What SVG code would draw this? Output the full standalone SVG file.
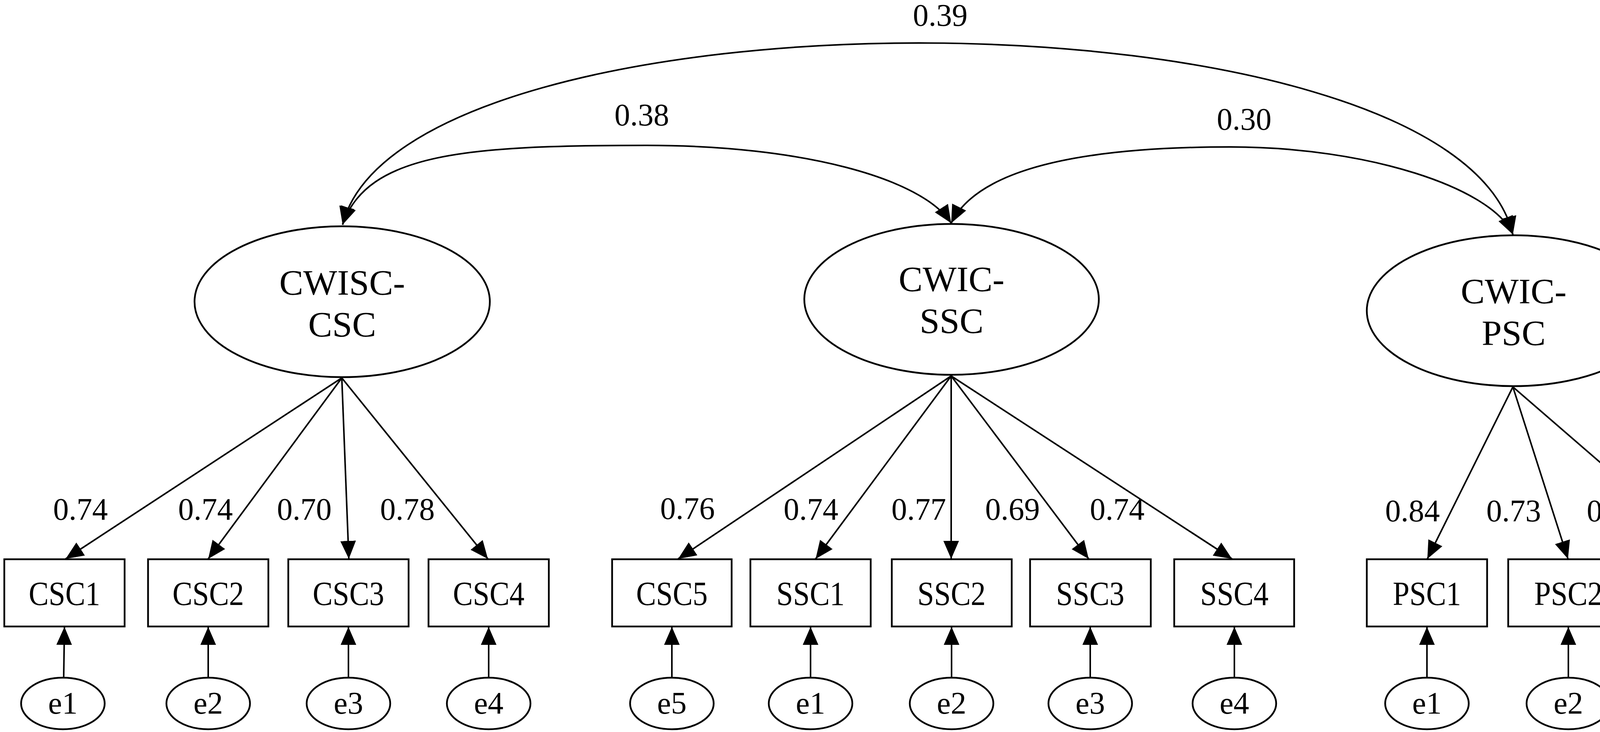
<svg xmlns="http://www.w3.org/2000/svg" width="4550" height="1873" viewBox="0 0 4550 1873">
<style>
.shape{fill:#fff;stroke:#000;stroke-width:4.5}
.c{fill:none;stroke:#000;stroke-width:4;marker-end:url(#ah)}
.cc{fill:none;stroke:#000;stroke-width:4;marker-end:url(#ah);marker-start:url(#ah)}
text{font-family:"Liberation Serif","Times New Roman",serif;fill:#000;text-anchor:middle}
.lat{font-size:92px}
.obs{font-size:86px}
.lbl{font-size:80px}
.err{font-size:80px}
</style>
<defs>
<marker id="ah" viewBox="0 0 46 40" refX="46" refY="20" markerWidth="46" markerHeight="40" markerUnits="userSpaceOnUse" orient="auto-start-reverse">
<path d="M0,0 L46,20 L0,40 z" fill="#000"/>
</marker>
</defs>
<rect width="4550" height="1873" fill="#fff"/>

<g id="connectors">
<path class="cc" d="M877,575 C1033,-49 3717,-49 3873,600"/>
<path class="cc" d="M877,575 C940,390 1200,372 1656,372 C2050,372 2360,455 2435,571"/>
<path class="cc" d="M2435,571 C2490,460 2680,376 3150,376 C3500,376 3820,480 3873,600"/>
<path class="c" d="M875,967 L168,1430"/>
<path class="c" d="M875,967 L533,1430"/>
<path class="c" d="M875,967 L893,1430"/>
<path class="c" d="M875,967 L1249,1430"/>
<path class="c" d="M2435,962 L1736,1430"/>
<path class="c" d="M2435,962 L2088,1430"/>
<path class="c" d="M2435,962 L2435,1430"/>
<path class="c" d="M2435,962 L2787,1430"/>
<path class="c" d="M2435,962 L3154,1430"/>
<path class="c" d="M3873,990 L3654,1430"/>
<path class="c" d="M3873,990 L4014,1430"/>
<path class="c" d="M3873,990 L4382,1430"/>
<path class="c" d="M163,1735 L165,1604"/>
<path class="c" d="M533,1735 L533,1604"/>
<path class="c" d="M892,1735 L892,1604"/>
<path class="c" d="M1251,1735 L1251,1604"/>
<path class="c" d="M1720,1735 L1720,1604"/>
<path class="c" d="M2075,1735 L2075,1604"/>
<path class="c" d="M2436,1735 L2436,1604"/>
<path class="c" d="M2791,1735 L2791,1604"/>
<path class="c" d="M3160,1735 L3160,1604"/>
<path class="c" d="M3653,1735 L3653,1604"/>
<path class="c" d="M4015,1735 L4015,1604"/>
<path class="c" d="M4385,1735 L4385,1604"/>
<text class="lbl" x="2407" y="66">0.39</text>
<text class="lbl" x="1643" y="321">0.38</text>
<text class="lbl" x="3185" y="332">0.30</text>
<text class="lbl" x="206" y="1330">0.74</text>
<text class="lbl" x="526" y="1330">0.74</text>
<text class="lbl" x="779" y="1330">0.70</text>
<text class="lbl" x="1043" y="1330">0.78</text>
<text class="lbl" x="1760" y="1328">0.76</text>
<text class="lbl" x="2076" y="1330">0.74</text>
<text class="lbl" x="2352" y="1330">0.77</text>
<text class="lbl" x="2592" y="1330">0.69</text>
<text class="lbl" x="2860" y="1330">0.74</text>
<text class="lbl" x="3616" y="1334">0.84</text>
<text class="lbl" x="3875" y="1334">0.73</text>
<text class="lbl" x="4132" y="1334">0.73</text>
</g>

<g id="CWISC-CSC"><ellipse class="shape" cx="876" cy="772" rx="378" ry="193"/><text class="lat" x="876" y="754">CWISC-</text><text class="lat" x="876" y="861">CSC</text></g>
<g id="CWIC-SSC"><ellipse class="shape" cx="2436" cy="766" rx="377" ry="193"/><text class="lat" x="2436" y="745">CWIC-</text><text class="lat" x="2436" y="852">SSC</text></g>
<g id="CWIC-PSC"><ellipse class="shape" cx="3875" cy="795" rx="376" ry="193"/><text class="lat" x="3875" y="776">CWIC-</text><text class="lat" x="3875" y="883">PSC</text></g>

<g id="CSC1"><rect class="shape" x="11" y="1431" width="308" height="172"/><text class="obs" x="165" y="1548" textLength="183" lengthAdjust="spacingAndGlyphs">CSC1</text></g>
<g id="CSC2"><rect class="shape" x="379" y="1431" width="308" height="172"/><text class="obs" x="533" y="1548" textLength="183" lengthAdjust="spacingAndGlyphs">CSC2</text></g>
<g id="CSC3"><rect class="shape" x="738" y="1431" width="308" height="172"/><text class="obs" x="892" y="1548" textLength="183" lengthAdjust="spacingAndGlyphs">CSC3</text></g>
<g id="CSC4"><rect class="shape" x="1097" y="1431" width="308" height="172"/><text class="obs" x="1251" y="1548" textLength="183" lengthAdjust="spacingAndGlyphs">CSC4</text></g>
<g id="CSC5"><rect class="shape" x="1567" y="1431" width="306" height="172"/><text class="obs" x="1720" y="1548" textLength="183" lengthAdjust="spacingAndGlyphs">CSC5</text></g>
<g id="SSC1"><rect class="shape" x="1921" y="1431" width="308" height="172"/><text class="obs" x="2075" y="1548" textLength="175" lengthAdjust="spacingAndGlyphs">SSC1</text></g>
<g id="SSC2"><rect class="shape" x="2283" y="1431" width="307" height="172"/><text class="obs" x="2436" y="1548" textLength="175" lengthAdjust="spacingAndGlyphs">SSC2</text></g>
<g id="SSC3"><rect class="shape" x="2637" y="1431" width="309" height="172"/><text class="obs" x="2791" y="1548" textLength="175" lengthAdjust="spacingAndGlyphs">SSC3</text></g>
<g id="SSC4"><rect class="shape" x="3006" y="1431" width="307" height="172"/><text class="obs" x="3160" y="1548" textLength="175" lengthAdjust="spacingAndGlyphs">SSC4</text></g>
<g id="PSC1"><rect class="shape" x="3499" y="1431" width="308" height="172"/><text class="obs" x="3653" y="1548" textLength="175" lengthAdjust="spacingAndGlyphs">PSC1</text></g>
<g id="PSC2"><rect class="shape" x="3861" y="1431" width="308" height="172"/><text class="obs" x="4015" y="1548" textLength="175" lengthAdjust="spacingAndGlyphs">PSC2</text></g>
<g id="PSC3"><rect class="shape" x="4231" y="1431" width="308" height="172"/><text class="obs" x="4385" y="1548" textLength="175" lengthAdjust="spacingAndGlyphs">PSC3</text></g>

<g id="e1-a"><ellipse class="shape" cx="161" cy="1800" rx="107" ry="66"/><text class="err" x="161" y="1826">e1</text></g>
<g id="e2-a"><ellipse class="shape" cx="533" cy="1800" rx="107" ry="66"/><text class="err" x="533" y="1826">e2</text></g>
<g id="e3-a"><ellipse class="shape" cx="892" cy="1800" rx="107" ry="66"/><text class="err" x="892" y="1826">e3</text></g>
<g id="e4-a"><ellipse class="shape" cx="1251" cy="1800" rx="107" ry="66"/><text class="err" x="1251" y="1826">e4</text></g>
<g id="e5-b"><ellipse class="shape" cx="1720" cy="1800" rx="107" ry="66"/><text class="err" x="1720" y="1826">e5</text></g>
<g id="e1-b"><ellipse class="shape" cx="2075" cy="1800" rx="107" ry="66"/><text class="err" x="2075" y="1826">e1</text></g>
<g id="e2-b"><ellipse class="shape" cx="2436" cy="1800" rx="107" ry="66"/><text class="err" x="2436" y="1826">e2</text></g>
<g id="e3-b"><ellipse class="shape" cx="2791" cy="1800" rx="107" ry="66"/><text class="err" x="2791" y="1826">e3</text></g>
<g id="e4-b"><ellipse class="shape" cx="3160" cy="1800" rx="107" ry="66"/><text class="err" x="3160" y="1826">e4</text></g>
<g id="e1-c"><ellipse class="shape" cx="3653" cy="1800" rx="107" ry="66"/><text class="err" x="3653" y="1826">e1</text></g>
<g id="e2-c"><ellipse class="shape" cx="4015" cy="1800" rx="107" ry="66"/><text class="err" x="4015" y="1826">e2</text></g>
<g id="e3-c"><ellipse class="shape" cx="4385" cy="1800" rx="107" ry="66"/><text class="err" x="4385" y="1826">e3</text></g>
</svg>
